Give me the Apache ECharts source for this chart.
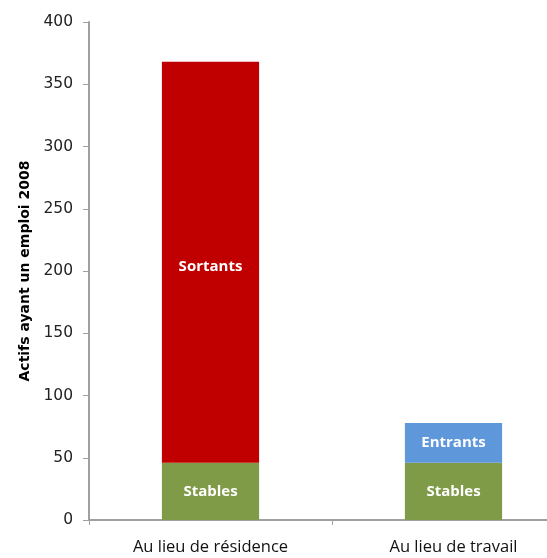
<!DOCTYPE html>
<html><head><meta charset="utf-8">
<script src="https://cdn.jsdelivr.net/npm/echarts@6/dist/echarts.min.js"></script>
<style>html,body{margin:0;padding:0;background:#fff}#c{width:547px;height:558px}</style>
</head><body><div id="c"></div>
<script>
const categories = ["Au lieu de résidence", "Au lieu de travail"];
const stables = [46, 46];
const sortants = [322, null];
const entrants = [null, 32];
const yTicks = {min: 0, max: 400, interval: 50};

const chart = echarts.init(document.getElementById('c'));
const lbl = {show: true, position: 'inside', formatter: '{a}', color: '#fff', fontWeight: 'bold', fontSize: 15, fontFamily: 'Open Sans'};
chart.setOption({
  animation: false,
  grid: {left: 89, top: 22, height: 498, width: 486, containLabel: false, outerBoundsMode: 'none'},
  xAxis: {
    type: 'category', data: categories,
    axisLine: {lineStyle: {color: '#a0a0a0', width: 2}},
    axisTick: {show: true, length: 5, lineStyle: {color: '#a0a0a0'}},
    axisLabel: {color: '#111', fontSize: 16.5, fontFamily: 'Open Sans', margin: 19}
  },
  yAxis: {
    type: 'value', min: yTicks.min, max: yTicks.max, interval: yTicks.interval,
    name: 'Actifs ayant un emploi 2008', nameLocation: 'middle', nameGap: 57,
    nameTextStyle: {fontWeight: 'bold', fontSize: 14, color: '#000', fontFamily: 'DejaVu Sans'},
    axisLine: {show: true, lineStyle: {color: '#a0a0a0', width: 2}},
    axisTick: {show: true, length: 6, lineStyle: {color: '#a0a0a0'}},
    splitLine: {show: false},
    axisLabel: {color: '#222', fontSize: 15.5, fontFamily: 'DejaVu Sans', margin: 16}
  },
  series: [
    {name: 'Stables', type: 'bar', stack: 's', data: stables, barWidth: '40%', itemStyle: {color: '#7F9B47'}, label: lbl},
    {name: 'Sortants', type: 'bar', stack: 's', data: sortants, barWidth: '40%', itemStyle: {color: '#C00000'}, label: Object.assign({}, lbl, {offset: [0, 4]})},
    {name: 'Entrants', type: 'bar', stack: 's', data: entrants, barWidth: '40%', itemStyle: {color: '#5E97DA'}, label: lbl}
  ]
});
</script></body></html>
